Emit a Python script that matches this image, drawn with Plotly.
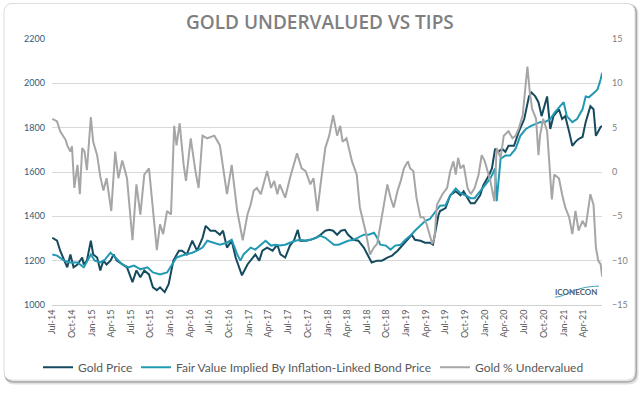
import datetime as dt
import plotly.graph_objects as go

# ---------------- data (dates as decimal years) ----------------
gold_dates = [2014.50, 2014.56, 2014.60, 2014.65, 2014.69, 2014.73, 2014.77, 2014.82, 2014.88, 2014.90,
              2014.94, 2014.99, 2015.02, 2015.07, 2015.11, 2015.15, 2015.19, 2015.24, 2015.28, 2015.32,
              2015.39, 2015.45, 2015.52, 2015.57, 2015.62, 2015.67, 2015.73, 2015.78, 2015.83, 2015.87,
              2015.93, 2015.98, 2016.04, 2016.11, 2016.15, 2016.21, 2016.28, 2016.34, 2016.41, 2016.45,
              2016.51, 2016.57, 2016.63, 2016.67, 2016.72, 2016.78, 2016.83, 2016.87, 2016.91, 2016.98,
              2017.02, 2017.08, 2017.13, 2017.17, 2017.23, 2017.30, 2017.36, 2017.40, 2017.46, 2017.52,
              2017.57, 2017.62, 2017.65, 2017.72, 2017.78, 2017.85, 2017.91, 2017.97, 2018.02, 2018.07,
              2018.12, 2018.17, 2018.22, 2018.26, 2018.33, 2018.39, 2018.46, 2018.52, 2018.56, 2018.63,
              2018.69, 2018.76, 2018.82, 2018.89, 2018.95, 2019.01, 2019.07, 2019.11, 2019.18, 2019.24,
              2019.30, 2019.34, 2019.37, 2019.41, 2019.43, 2019.50, 2019.56, 2019.63, 2019.69, 2019.73,
              2019.78, 2019.82, 2019.87, 2019.94, 2019.98, 2020.05, 2020.09, 2020.13, 2020.17, 2020.22,
              2020.26, 2020.30, 2020.37, 2020.43, 2020.50, 2020.56, 2020.59, 2020.64, 2020.68, 2020.72,
              2020.79, 2020.83, 2020.87, 2020.94, 2020.98, 2021.02, 2021.07, 2021.11, 2021.15, 2021.19,
              2021.24, 2021.28, 2021.34, 2021.38, 2021.41, 2021.44, 2021.47, 2021.49]
gold_price = [1303, 1290, 1245, 1200, 1170, 1228, 1170, 1183, 1214, 1183,
              1200, 1290, 1228, 1214, 1156, 1200, 1183, 1200, 1228, 1200,
              1183, 1170, 1103, 1156, 1125, 1156, 1138, 1080, 1067, 1080,
              1058, 1094, 1200, 1245, 1245, 1228, 1290, 1245, 1303, 1357,
              1335, 1335, 1317, 1335, 1259, 1290, 1214, 1170, 1134, 1183,
              1200, 1228, 1200, 1245, 1259, 1245, 1272, 1228, 1214, 1268,
              1290, 1339, 1290, 1290, 1294, 1303, 1317, 1335, 1339, 1335,
              1317, 1335, 1339, 1317, 1294, 1290, 1259, 1214, 1192, 1200,
              1200, 1214, 1223, 1245, 1268, 1290, 1317, 1294, 1290, 1281,
              1281, 1272, 1335, 1406, 1424, 1437, 1495, 1513, 1495, 1513,
              1482, 1459, 1459, 1495, 1540, 1584, 1616, 1705, 1691, 1705,
              1691, 1718, 1718, 1781, 1839, 1941, 1959, 1941, 1915, 1852,
              1941, 1794, 1852, 1883, 1839, 1852, 1781, 1718, 1736, 1749,
              1758, 1825, 1897, 1883, 1763, 1781, 1803, 1807]

fv_dates = [2014.50, 2014.56, 2014.65, 2014.73, 2014.82, 2014.90, 2014.99, 2015.04, 2015.11, 2015.17,
            2015.24, 2015.30, 2015.39, 2015.47, 2015.54, 2015.62, 2015.71, 2015.78, 2015.87, 2015.96,
            2016.02, 2016.08, 2016.15, 2016.21, 2016.28, 2016.34, 2016.41, 2016.47, 2016.55, 2016.63,
            2016.72, 2016.78, 2016.85, 2016.89, 2016.93, 2017.02, 2017.08, 2017.15, 2017.21, 2017.28,
            2017.34, 2017.39, 2017.46, 2017.52, 2017.59, 2017.65, 2017.72, 2017.78, 2017.85, 2017.91,
            2017.97, 2018.02, 2018.08, 2018.14, 2018.21, 2018.26, 2018.33, 2018.39, 2018.46, 2018.52,
            2018.59, 2018.63, 2018.67, 2018.74, 2018.80, 2018.86, 2018.93, 2018.99, 2019.05, 2019.11,
            2019.18, 2019.24, 2019.30, 2019.37, 2019.43, 2019.50, 2019.56, 2019.63, 2019.69, 2019.75,
            2019.82, 2019.87, 2019.94, 2020.00, 2020.07, 2020.13, 2020.15, 2020.20, 2020.26, 2020.32,
            2020.39, 2020.45, 2020.52, 2020.58, 2020.65, 2020.70, 2020.76, 2020.83, 2020.89, 2020.96,
            2021.00, 2021.04, 2021.11, 2021.17, 2021.24, 2021.28, 2021.32, 2021.39, 2021.43, 2021.47,
            2021.49]
fair_value = [1228, 1223, 1200, 1192, 1192, 1170, 1228, 1200, 1192, 1205,
              1236, 1214, 1183, 1170, 1178, 1161, 1170, 1147, 1138, 1147,
              1178, 1214, 1223, 1228, 1236, 1245, 1259, 1290, 1281, 1272,
              1281, 1294, 1228, 1200, 1228, 1259, 1250, 1272, 1290, 1268,
              1272, 1268, 1272, 1281, 1290, 1294, 1290, 1294, 1303, 1312,
              1303, 1290, 1272, 1272, 1281, 1290, 1294, 1303, 1317, 1317,
              1326, 1303, 1272, 1268, 1250, 1268, 1272, 1294, 1312, 1335,
              1357, 1379, 1388, 1420, 1448, 1450, 1495, 1526, 1504, 1495,
              1482, 1482, 1513, 1540, 1571, 1616, 1468, 1660, 1674, 1674,
              1705, 1763, 1794, 1807, 1816, 1825, 1825, 1839, 1870, 1897,
              1915, 1852, 1825, 1839, 1883, 1941, 1937, 1959, 1972, 2017,
              2048]

gap_dates = [2014.50, 2014.56, 2014.60, 2014.67, 2014.69, 2014.73, 2014.75, 2014.78, 2014.82, 2014.85,
             2014.88, 2014.91, 2014.94, 2014.99, 2015.02, 2015.07, 2015.11, 2015.15, 2015.19, 2015.25,
             2015.30, 2015.34, 2015.39, 2015.45, 2015.52, 2015.57, 2015.62, 2015.67, 2015.73, 2015.78,
             2015.83, 2015.87, 2015.91, 2015.96, 2016.01, 2016.05, 2016.08, 2016.12, 2016.17, 2016.20,
             2016.26, 2016.32, 2016.36, 2016.41, 2016.47, 2016.56, 2016.63, 2016.72, 2016.78, 2016.85,
             2016.92, 2016.98, 2017.02, 2017.06, 2017.10, 2017.15, 2017.23, 2017.28, 2017.32, 2017.36,
             2017.39, 2017.46, 2017.52, 2017.61, 2017.67, 2017.72, 2017.78, 2017.82, 2017.87, 2017.91,
             2017.97, 2018.02, 2018.07, 2018.12, 2018.16, 2018.19, 2018.24, 2018.31, 2018.37, 2018.41,
             2018.48, 2018.54, 2018.59, 2018.63, 2018.69, 2018.76, 2018.80, 2018.84, 2018.89, 2018.93,
             2018.97, 2019.02, 2019.05, 2019.09, 2019.13, 2019.18, 2019.22, 2019.26, 2019.33, 2019.36,
             2019.39, 2019.46, 2019.52, 2019.56, 2019.60, 2019.63, 2019.66, 2019.69, 2019.73, 2019.78,
             2019.82, 2019.87, 2019.92, 2019.96, 2020.00, 2020.07, 2020.12, 2020.15, 2020.20, 2020.24,
             2020.30, 2020.35, 2020.39, 2020.43, 2020.48, 2020.51, 2020.54, 2020.57, 2020.60, 2020.65,
             2020.68, 2020.70, 2020.74, 2020.79, 2020.82, 2020.85, 2020.88, 2020.94, 2020.98, 2021.02,
             2021.07, 2021.11, 2021.15, 2021.19, 2021.24, 2021.28, 2021.34, 2021.38, 2021.41, 2021.44,
             2021.47, 2021.49]
gold_undervalued = [6.0, 5.7, 4.6, 3.6, 3.0, 2.3, 2.9, -1.8, 0.8, -2.5,
                    2.7, 2.3, 0.2, 6.2, 3.4, 1.9, -0.5, -2.1, -0.7, -4.4,
                    2.3, -0.7, 1.3, -0.7, -7.7, -1.4, -4.8, -0.3, 0.4, -4.4,
                    -8.8, -5.9, -7.0, -4.4, -4.8, 5.2, 3.0, 5.5, 0.8, -1.0,
                    3.8, 0.1, -1.8, 4.1, 3.8, 4.1, 3.0, -2.5, 0.8, -4.4,
                    -7.7, -4.8, -3.7, -2.1, -1.8, -2.5, 0.1, -1.8, -1.0, -2.5,
                    -1.4, -2.9, -0.7, 2.1, 0.4, 0.1, -1.4, -0.7, -4.4, -1.4,
                    2.7, 4.1, 6.4, 4.1, 5.2, 3.4, 3.8, 1.2, -0.3, -4.0,
                    -6.6, -9.3, -8.5, -8.1, -5.1, -1.4, -2.9, -4.0, -2.1, -1.0,
                    0.4, 1.2, 0.4, 0.1, -2.9, -5.1, -5.1, -5.9, -8.1, -7.4,
                    -3.7, -2.5, -1.8, 0.1, 1.2, -0.3, 1.6, 0.4, 0.8, -1.8,
                    -2.5, -1.8, -0.3, 1.9, 1.2, -1.0, -3.3, 2.7, 1.6, 4.1,
                    4.6, 3.8, 4.1, 4.9, 6.4, 9.4, 11.9, 9.0, 7.1, 6.0,
                    1.9, 4.1, 6.0, 4.6, 0.1, -3.1, -0.3, -0.7, -2.5, -4.0,
                    -5.1, -7.0, -4.4, -6.6, -5.5, -6.2, -2.5, -3.7, -8.5, -10.0,
                    -10.4, -11.8]

series_names = ["Gold Price", "Fair Value Implied By Inflation-Linked Bond Price", "Gold % Undervalued"]
left_ticks = [1000, 1200, 1400, 1600, 1800, 2000, 2200]
right_ticks = [-15, -10, -5, 0, 5, 10, 15]
title_text = "GOLD UNDERVALUED VS TIPS"
logo_text = "ICONECON"


def to_date(d):
    y = int(d)
    start = dt.datetime(y, 1, 1)
    days = (dt.datetime(y + 1, 1, 1) - start).days
    return start + dt.timedelta(days=(d - y) * days)


C_GOLD = "#164a5e"
C_FV = "#2299b3"
C_GAP = "#a6a6a6"
FONT = "Lato"

# plot area: x 52..602, y 39..308 in a 640x394 canvas
W, H = 640, 394
L, R, T, B = 52, 602, 39, 308
PW, PH = R - L, B - T


def px(x):
    return (x - L) / PW


def py(y):
    return (B - y) / PH


fig = go.Figure()
fig.add_trace(go.Scatter(x=[to_date(d) for d in gold_dates], y=gold_price, name=series_names[0],
                         mode="lines", line=dict(color=C_GOLD, width=2), legend="legend"))
fig.add_trace(go.Scatter(x=[to_date(d) for d in fv_dates], y=fair_value, name=series_names[1],
                         mode="lines", line=dict(color=C_FV, width=2), legend="legend2"))
fig.add_trace(go.Scatter(x=[to_date(d) for d in gap_dates], y=gold_undervalued, name=series_names[2],
                         mode="lines", line=dict(color=C_GAP, width=2), yaxis="y2", legend="legend3"))


def rounded(x0, y0, x1, y1, r):
    rx, ry = r / PW, r / PH
    X0, X1, Y0, Y1 = px(x0), px(x1), py(y0), py(y1)
    return (f"M {X0+rx},{Y0} L {X1-rx},{Y0} Q {X1},{Y0} {X1},{Y0-ry} "
            f"L {X1},{Y1+ry} Q {X1},{Y1} {X1-rx},{Y1} L {X0+rx},{Y1} "
            f"Q {X0},{Y1} {X0},{Y1+ry} L {X0},{Y0-ry} Q {X0},{Y0} {X0+rx},{Y0} Z")


shapes = [
    dict(type="path", xref="paper", yref="paper", path=rounded(6, 5, 637, 387, 9),
         line=dict(color="rgba(0,0,0,0.12)", width=3), layer="below"),
    dict(type="path", xref="paper", yref="paper", path=rounded(5, 4, 636, 385.5, 9),
         line=dict(color="rgba(0,0,0,0.25)", width=2), layer="below"),
    dict(type="path", xref="paper", yref="paper", path=rounded(4, 3, 635, 384, 9),
         fillcolor="white", line=dict(color="#dcdcdc", width=1), layer="below"),
    # logo wave
    dict(type="path", xref="paper", yref="paper",
         path=f"M {px(555)},{py(300)} C {px(566)},{py(300)} {px(574)},{py(289)} {px(599)},{py(289)}",
         line=dict(color="#3aa0c0", width=1), layer="above"),
]

leg_common = dict(orientation="h", xanchor="left", y=py(371), yanchor="middle",
                  font=dict(family=FONT, size=12, color="#595959"), bgcolor="rgba(0,0,0,0)",
                  borderwidth=0)

fig.update_layout(
    width=W, height=H,
    margin=dict(l=L, r=W - R, t=T, b=H - B),
    paper_bgcolor="white", plot_bgcolor="rgba(0,0,0,0)",
    showlegend=True,
    legend=dict(leg_common, x=px(38)),
    legend2=dict(leg_common, x=px(136)),
    legend3=dict(leg_common, x=px(435)),
    xaxis=dict(type="date", range=[dt.datetime(2014, 7, 1), dt.datetime(2021, 6, 28)],
               tick0="2014-07-01", dtick="M3", tickformat="%b-%y", tickangle=-90,
               tickfont=dict(family=FONT, size=9, color="#595959"),
               showgrid=False, showline=True, linecolor="#d0d0d0", linewidth=1,
               ticks="", zeroline=False),
    yaxis=dict(range=[1000, 2200], tickvals=left_ticks, showgrid=True, gridcolor="#d9d9d9",
               gridwidth=1, zeroline=False, showline=False, ticks="",
               tickfont=dict(family=FONT, size=9, color="#2e5c7a"), ticklabelstandoff=6),
    yaxis2=dict(range=[-15, 15], tickvals=right_ticks, overlaying="y", side="right",
                showgrid=False, zeroline=False, showline=False, ticks="",
                tickfont=dict(family=FONT, size=9, color="#808080"), ticklabelstandoff=9),
    shapes=shapes,
    annotations=[
        dict(text=title_text, xref="paper", yref="paper", x=px(320), y=py(22),
             xanchor="center", yanchor="middle", showarrow=False,
             font=dict(family="Open Sans", size=19, color="#7f7f7f", weight=600)),
        dict(text=logo_text, xref="paper", yref="paper", x=px(576), y=py(295),
             xanchor="center", yanchor="middle", showarrow=False,
             font=dict(family=FONT, size=8, color="#52606b", weight="bold")),
    ],
)

fig.write_html("out.html", config={"displayModeBar": False},
               post_script="document.body.style.margin='0';")
